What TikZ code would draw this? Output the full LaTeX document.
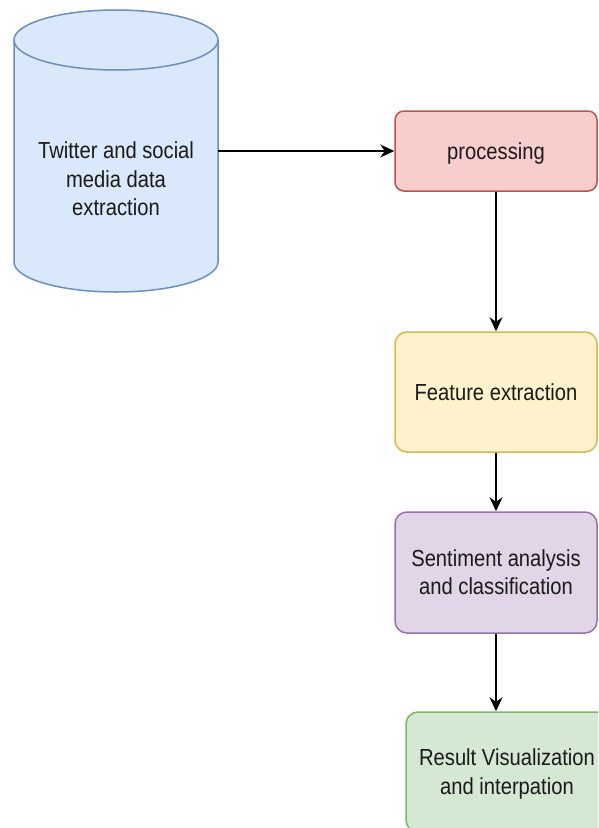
\documentclass[tikz,border=0pt]{standalone}
\usepackage{fontspec}
\setmainfont{Liberation Sans}
\usetikzlibrary{arrows.meta,calc}
\definecolor{bluefill}{HTML}{DAE8FC}\definecolor{bluedraw}{HTML}{6C8EBF}
\definecolor{redfill}{HTML}{F8CECC}\definecolor{reddraw}{HTML}{B85450}
\definecolor{yelfill}{HTML}{FFF2CC}\definecolor{yeldraw}{HTML}{D6B656}
\definecolor{purfill}{HTML}{E1D5E7}\definecolor{purdraw}{HTML}{9673A6}
\definecolor{grnfill}{HTML}{D5E8D4}\definecolor{grndraw}{HTML}{82B366}
\definecolor{txt}{HTML}{1A1A1A}
\newcommand{\lbl}[1]{\raisebox{-2.5pt}[\height][\depth]{\scalebox{0.87}[1]{\begin{tabular}{@{}c@{}}#1\end{tabular}}}}
\begin{document}
\begin{tikzpicture}[x=1pt,y=-1pt,
  every node/.style={font=\fontsize{23.2}{28.5}\selectfont, text=txt},
  stepbox/.style={draw, line width=1.5pt, minimum width=202pt, inner sep=0pt, align=center},
  conn/.style={draw=black, line width=1.5pt, -{Stealth[length=14pt,width=13pt,inset=4.5pt]}}]
\useasboundingbox (0,0) rectangle (598,828);
\clip (0,0) rectangle (598,828);
% cylinder
\node[minimum width=204pt, minimum height=282pt, inner sep=0pt] (cyl) at (116,151) {};
\fill[bluefill] (14,40) rectangle (218,262);
\fill[bluefill] (116,262) ellipse[x radius=102pt, y radius=30pt];
\draw[draw=bluedraw, line width=1.5pt]
  (14,40) -- (14,262) arc[start angle=180, end angle=360, x radius=102pt, y radius=30pt]
  -- (218,40);
\filldraw[fill=bluefill, draw=bluedraw, line width=1.5pt] (116,40) ellipse[x radius=102pt, y radius=30pt];
\node (cyltext) at (116,179) {\lbl{Twitter and social\\media data\\extraction}};
% boxes
\node[stepbox, fill=redfill, draw=reddraw, minimum height=80pt, rounded corners=9pt] (proc) at (496,151) {\lbl{processing}};
\node[stepbox, fill=yelfill, draw=yeldraw, minimum height=120pt, rounded corners=12pt] (feat) at (496,392) {\lbl{Feature extraction}};
\node[stepbox, fill=purfill, draw=purdraw, minimum height=121pt, rounded corners=12pt] (sent) at (496,572.5) {\lbl{Sentiment analysis\\and classification}};
\node[stepbox, fill=grnfill, draw=grndraw, minimum height=120pt, rounded corners=12pt] (res) at (507,772) {\lbl{Result Visualization\\and interpation}};
% connectors
\draw[conn] (cyl.east |- proc.west) -- (proc.west);
\draw[conn] (proc.south) -- (feat.north);
\draw[conn] (feat.south) -- (sent.north);
\draw[conn] (sent.south) -- (sent.south |- res.north);
\end{tikzpicture}
\end{document}
